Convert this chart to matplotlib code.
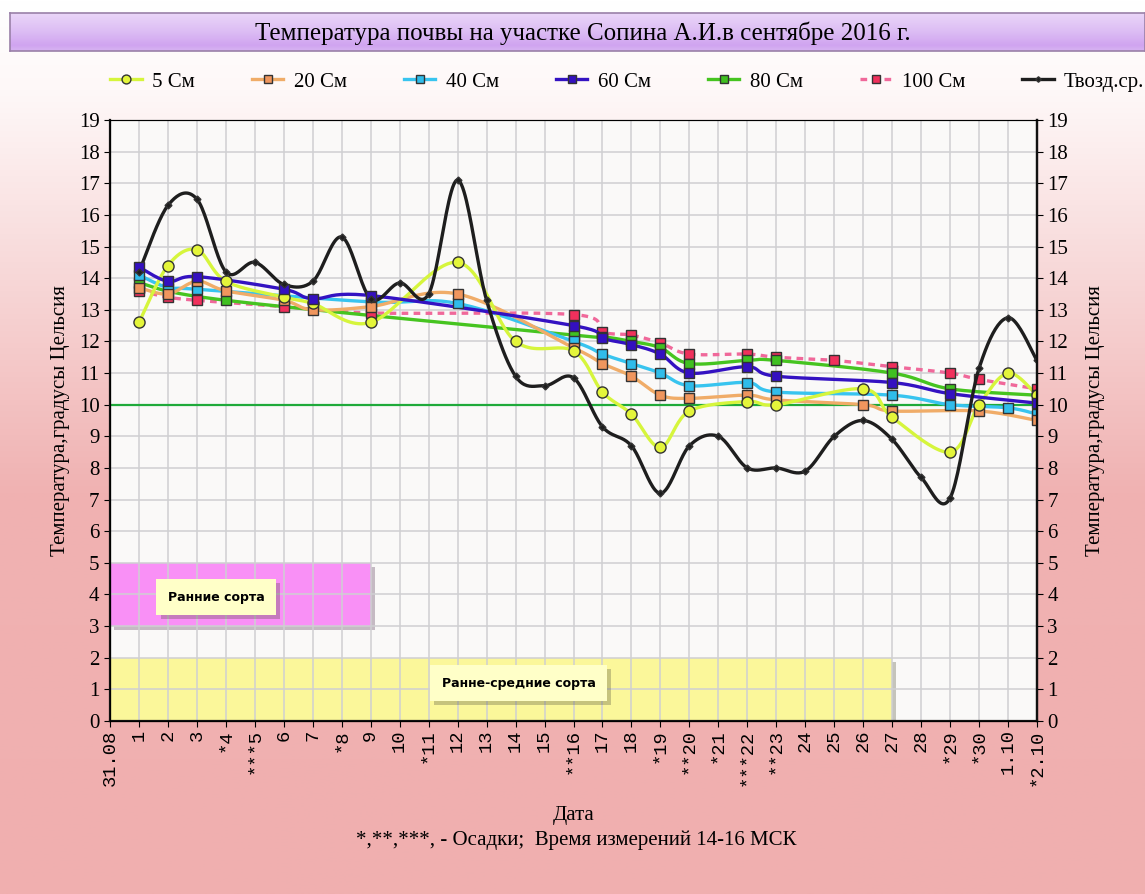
import numpy as np
import matplotlib
matplotlib.use("Agg")
import matplotlib.pyplot as plt
import matplotlib.patheffects as pe
from matplotlib.patches import Rectangle

N = None
dates = ['31.08', '1', '2', '3', '*4', '***5', '6', '7', '*8', '9', '10', '*11', '12',
         '13', '14', '15', '**16', '17', '18', '*19', '**20', '*21', '***22', '**23',
         '24', '25', '26', '27', '28', '*29', '*30', '1.10', '*2.10']

#          31  1     2     3     4     5     6     7     8     9     10    11    12
t5   = [N, 12.6, 14.4, 14.9, 13.9, N,    13.4, 13.2, N,    12.6, N,    N,    14.5,
        N, 12.0, N,    11.7, 10.4, 9.7,  8.65, 9.8,  N,    10.1, 10.0, N,    N,
        10.5, 9.6, N,  8.5,  10.0, 11.0, 10.3]
t20  = [N, 13.7, 13.5, 13.9, 13.6, N,    13.3, 13.0, N,    13.1, N,    N,    13.5,
        N, N,    N,    11.8, 11.3, 10.9, 10.3, 10.2, N,    10.3, 10.15, N,   N,
        10.0, 9.8, N,  N,    9.8,  N,    9.5]
t40  = [N, 14.1, 13.7, 13.65, N,   N,    N,    N,    N,    13.25, N,   N,    13.2,
        N, N,    N,    12.0, 11.6, 11.3, 11.0, 10.6, N,    10.7, 10.4, N,    N,
        N,  10.3, N,   10.0, N,    9.9,  9.7]
t60  = [N, 14.35, 13.9, 14.05, N,  N,    13.65, 13.35, N,  13.45, N,   N,    N,
        N, N,    N,    12.5, 12.1, 11.9, 11.6, 11.0, N,    11.2, 10.9, N,    N,
        N,  10.7, N,   10.35, N,   N,    10.05]
t80  = [N, 13.85, N,   N,    13.3, N,    N,    N,    N,    N,    N,    N,    N,
        N, N,    N,    12.2, 12.15, 12.0, 11.8, 11.3, N,   11.4, 11.4, N,    N,
        N,  11.0, N,   10.5, N,    N,    10.3]
t100 = [N, 13.6, 13.4, 13.3, N,    N,    13.1, N,    N,    12.9, N,    N,    N,
        N, N,    N,    12.85, 12.3, 12.2, 11.95, 11.6, N,  11.6, 11.5, N,    11.4,
        N,  11.2, N,   11.0, 10.8, N,    10.5]
tair = [N, 14.2, 16.3, 16.5, 14.2, 14.5, 13.8, 13.9, 15.3, 13.35, 13.85, 13.5, 17.1,
        13.3, 10.9, 10.6, 10.85, 9.3, 8.7, 7.2, 8.7, 9.0, 8.0, 8.0, 7.9, 9.0,
        9.5, 8.9, 7.7, 7.05, 11.15, 12.75, 11.4]


def smooth(xs, ys, n=24):
    P = np.column_stack([xs, ys])
    out = []
    for i in range(len(P) - 1):
        p0 = P[i - 1] if i > 0 else P[i]
        p1, p2 = P[i], P[i + 1]
        p3 = P[i + 2] if i + 2 < len(P) else P[i + 1]
        c1 = p1 + (p2 - p0) / 6
        c2 = p2 - (p3 - p1) / 6
        t = np.linspace(0, 1, n)[:, None]
        seg = (1 - t)**3 * p1 + 3 * (1 - t)**2 * t * c1 + 3 * (1 - t) * t**2 * c2 + t**3 * p2
        out.append(seg if i == 0 else seg[1:])
    return np.vstack(out)


def plot_series(ax, vals, label, color, mface, marker, ms, ls='-', lw=2.4, z=3):
    x = np.array([i for i, v in enumerate(vals) if v is not None], float)
    y = np.array([v for v in vals if v is not None], float)
    c = smooth(x, y)
    ax.plot(c[:, 0], c[:, 1], color=color, lw=lw, ls=ls, zorder=z, solid_capstyle='round')
    ax.plot(x, y, ls='', marker=marker, ms=ms, mfc=mface, mec='#333333', mew=1.0, zorder=z + 0.5)
    return plt.Line2D([], [], color=color, lw=lw, ls=ls, marker=marker, ms=ms * 0.8,
                      mfc=mface, mec='#333333', label=label)


def vgradient(stops, r, g, b):
    p = np.linspace(0, 1, 300)
    cols = np.stack([np.interp(p, stops, r), np.interp(p, stops, g), np.interp(p, stops, b)], axis=1)
    return (cols[:, None, :].repeat(2, axis=1) / 255.0)


W, H = 1145, 894
fig = plt.figure(figsize=(W / 100, H / 100), dpi=100)

# background gradient
bg = fig.add_axes([0, 0, 1, 1], zorder=-10)
bg.imshow(vgradient([0, 0.1, 0.55, 1], [255, 254, 240, 240], [255, 248, 178, 175],
                    [255, 248, 178, 175]), aspect='auto', extent=[0, 1, 0, 1], origin='upper')
bg.axis('off')

# title bar
tb = fig.add_axes([10 / W, 1 - 51 / H, 1 - 10 / W, 38 / H], zorder=-5)
tb.imshow(vgradient([0, 0.5, 0.85, 1], [234, 220, 208, 215], [214, 188, 164, 180],
                    [248, 244, 240, 242]),
          aspect='auto', extent=[0, 1, 0, 1], origin='upper')
tb.set_xticks([])
tb.set_yticks([])
for s in tb.spines.values():
    s.set_color('#9a80a8')
    s.set_linewidth(1.2)
fig.text(583 / W, 1 - 33 / H, 'Температура почвы на участке Сопина А.И.в сентябре 2016 г.',
         ha='center', va='center', family='Liberation Serif', fontsize=18)

ax = fig.add_axes([110 / W, 1 - 721 / H, 927 / W, 601 / H])
ax.set_facecolor('#faf9f8')
ax.set_xlim(0, len(dates) - 1)
ax.set_ylim(0, 19)
ax.set_xticks(range(len(dates)))
ax.set_xticklabels(dates, rotation=90, family='Liberation Mono', fontsize=13.5)
ax.set_yticks(range(20))
ax.tick_params(axis='y', labelsize=15, length=4)
ax.tick_params(axis='x', length=4, pad=2)
for lab in ax.get_yticklabels():
    lab.set_family('Liberation Serif')
ax.grid(True, color='#cfcfd2', lw=1.1)
ax.set_axisbelow(True)
for s in ['left', 'bottom', 'right']:
    ax.spines[s].set_color('#111111')
    ax.spines[s].set_linewidth(1.6)
ax.spines['top'].set_color('#444444')

# variety zones
shadow = [pe.SimplePatchShadow(offset=(3, -3), alpha=0.3), pe.Normal()]
r1 = Rectangle((0, 3), 9, 2, fc='#f990f6', ec='none', zorder=0.2)
r2 = Rectangle((0, 0), 27, 2, fc='#fbf79a', ec='none', zorder=0.2)
for rr in (r1, r2):
    rr.set_path_effects(shadow)
    ax.add_patch(rr)
for tx, xx, yy in [('Ранние сорта', 3.66, 3.92), ('Ранне-средние сорта', 14.1, 1.2)]:
    t = ax.text(xx, yy, tx, ha='center', va='center', fontsize=9, fontweight='bold',
                family='DejaVu Sans', zorder=2,
                bbox=dict(boxstyle='square,pad=0.9', fc='#ffffc8', ec='none'))
    t.get_bbox_patch().set_path_effects(shadow)

ax.axhline(10, color='#1faa3a', lw=1.6, zorder=2.5)

handles = []
handles.append(plot_series(ax, t5, '5 См', '#d6f53c', '#e4f53a', 'o', 8, z=3.4))
handles.append(plot_series(ax, t20, '20 См', '#f0ac68', '#f0965e', 's', 7, z=3.3))
handles.append(plot_series(ax, t40, '40 См', '#38c4ef', '#30bcea', 's', 7, z=3.2))
handles.append(plot_series(ax, t60, '60 См', '#3412c2', '#3410c0', 's', 7, z=3.6))
handles.append(plot_series(ax, t80, '80 См', '#46c420', '#40c020', 's', 7, z=3.1))
handles.append(plot_series(ax, t100, '100 См', '#f0689a', '#f0305c', 's', 7, ls=(0, (2, 1.6)), z=3.0))
handles.append(plot_series(ax, tair, 'Твозд.ср.', '#1e1e1e', '#1e1e1e', 'D', 3.5, z=3.8))

ax2 = ax.twinx()
ax2.set_ylim(0, 19)
ax2.set_yticks(range(20))
ax2.tick_params(axis='y', labelsize=15, length=4)
for lab in ax2.get_yticklabels():
    lab.set_family('Liberation Serif')
ax2.spines['right'].set_color('#111111')
ax2.spines['right'].set_linewidth(1.6)

ylab = 'Температура,градусы Цельсия'
ax.set_ylabel(ylab, family='Liberation Serif', fontsize=15)
ax.yaxis.set_label_coords(-0.043, 0.5)
ax2.set_ylabel(ylab, family='Liberation Serif', fontsize=15)
ax2.yaxis.set_label_coords(1.053, 0.5)

ax.set_xlabel('Дата', family='Liberation Serif', fontsize=15)
ax.xaxis.set_label_coords(0.5, -0.142)
fig.text(576 / W, 1 - 840 / H, '*,**,***, - Осадки;  Время измерений 14-16 МСК',
         ha='center', va='center', family='Liberation Serif', fontsize=15)

fig.legend(handles=handles, loc='center left', bbox_to_anchor=(102 / W, 1 - 82 / H), ncol=7,
           frameon=False, prop={'family': 'Liberation Serif', 'size': 15},
           handlelength=1.5, columnspacing=2.75, handletextpad=0.5, borderaxespad=0)

fig.savefig('out.png', dpi=100)
